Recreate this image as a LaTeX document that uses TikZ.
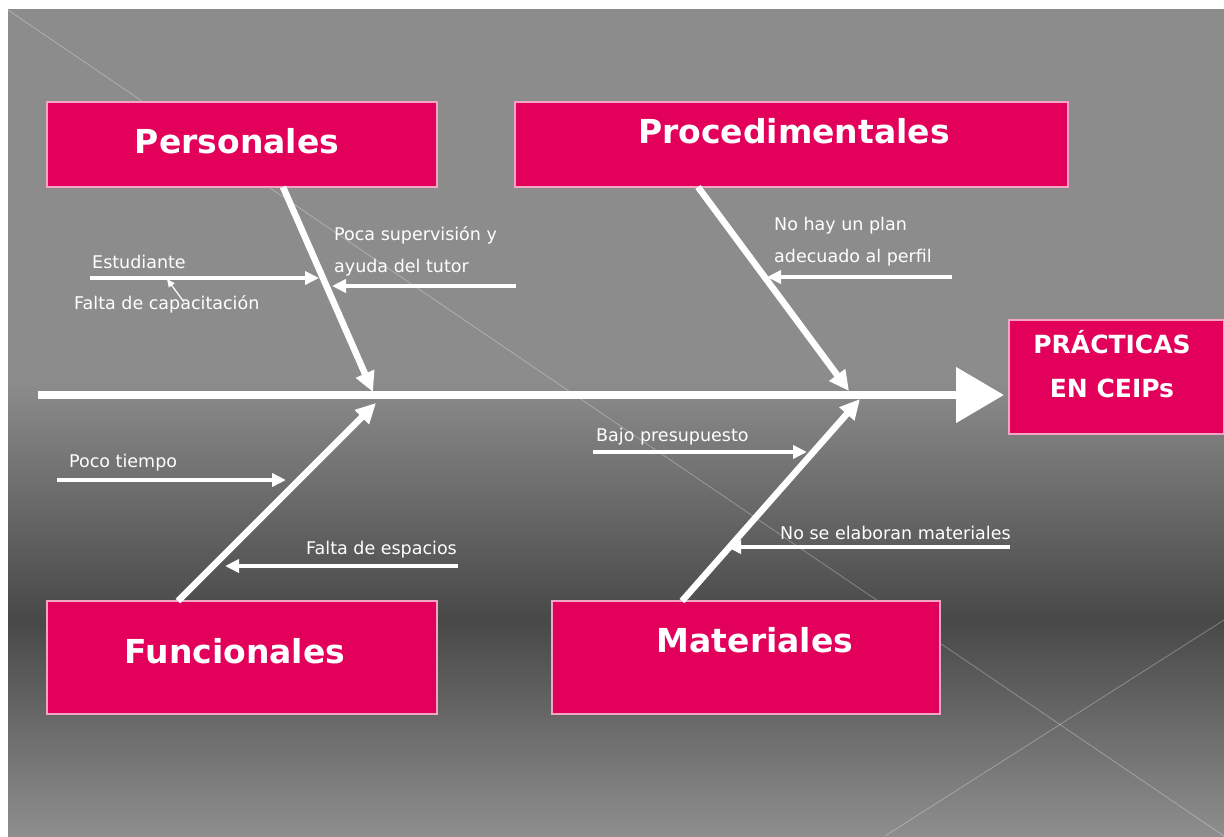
\documentclass[tikz,border=0pt]{standalone}
\usepackage{fontspec}
\setmainfont{DejaVu Sans}
\usetikzlibrary{arrows.meta}
\definecolor{boxpink}{HTML}{E2005A}
\definecolor{boxedge}{HTML}{F2A6C4}
\definecolor{bgA}{HTML}{8C8C8C}
\definecolor{bgB}{HTML}{484848}
\definecolor{bgC}{HTML}{8E8E8E}
\tikzset{
  catbox/.style={draw=boxedge, line width=1.2pt, fill=boxpink, inner sep=0pt},
  cattext/.style={text=white, font=\bfseries\fontsize{33}{36}\selectfont, inner sep=0pt},
  efftext/.style={text=white, font=\bfseries\fontsize{25}{44}\selectfont, align=center, inner sep=0pt},
  lbl/.style={text=white, font=\fontsize{17.5}{32}\selectfont, anchor=west, align=left, inner sep=0pt},
  spine/.style={white, line width=8pt, -{Triangle[length=48pt,width=54pt]}},
  bone/.style={white, line width=6.5pt, -{Triangle[length=20pt,width=19pt]}},
  twig/.style={white, line width=3.5pt, -{Triangle[length=14pt,width=13pt]}},
  thin twig/.style={white, line width=1.2pt, -{Triangle[length=8pt,width=7pt]}},
  deco/.style={white, opacity=0.3, line width=0.8pt}
}
\begin{document}
\begin{tikzpicture}[x=1pt,y=-1pt]
\useasboundingbox (0,0) rectangle (1224,836);
\fill[white] (0,0) rectangle (1224,836);
% background
\fill[bgA] (8,9) rectangle (1224,381);
\shade[top color=bgA, bottom color=bgB] (8,380) rectangle (1224,621);
\shade[top color=bgB, bottom color=bgC] (8,620) rectangle (1224,836);
\draw[deco] (8,10) -- (1224,836);
\draw[deco] (885,836) -- (1224,620);

% boxes
\node[catbox, minimum width=390pt, minimum height=85pt] (pers) at (242,144.5) {};
\node[cattext] at (237,141) {Personales};
\node[catbox, minimum width=553pt, minimum height=85pt] (proc) at (791.5,144.5) {};
\node[cattext] at (794,131) {Procedimentales};
\node[catbox, minimum width=390pt, minimum height=113pt] (func) at (242,657.5) {};
\node[cattext] at (235,651) {Funcionales};
\node[catbox, minimum width=388pt, minimum height=113pt] (mat) at (746,657.5) {};
\node[cattext] at (755,640) {Materiales};
\node[catbox, minimum width=215pt, minimum height=114pt] (eff) at (1116.5,377) {};
\node[efftext] at (1112,364) {PRÁCTICAS\\EN CEIPs};

% spine
\coordinate (s0) at (38,395);
\coordinate (s1) at (1004,395);
\draw[spine] (s0) -- (s1);

% bones
\coordinate (p0) at (283,187);  \coordinate (p1) at (373,392);
\coordinate (q0) at (698,187);  \coordinate (q1) at (849,391);
\coordinate (f0) at (178,601);  \coordinate (f1) at (376,403);
\coordinate (m0) at (682,601);  \coordinate (m1) at (860,399);
\draw[bone] (p0) -- (p1);
\draw[bone] (q0) -- (q1);
\draw[bone] (f0) -- (f1);
\draw[bone] (m0) -- (m1);

% twigs
\coordinate (a0) at (90,278);   \coordinate (a1) at (319,278);
\coordinate (b0) at (184,302);  \coordinate (b1) at (167,279);
\coordinate (c0) at (516,286);  \coordinate (c1) at (332,286);
\coordinate (d0) at (952,277);  \coordinate (d1) at (767,277);
\coordinate (e0) at (57,480);   \coordinate (e1) at (286,480);
\coordinate (g0) at (458,566);  \coordinate (g1) at (225,566);
\coordinate (h0) at (593,452);  \coordinate (h1) at (807,452);
\coordinate (k0) at (1010,547); \coordinate (k1) at (727,547);
\draw[twig] (a0) -- (a1);
\draw[thin twig] (b0) -- (b1);
\draw[twig] (c0) -- (c1);
\draw[twig] (d0) -- (d1);
\draw[twig] (e0) -- (e1);
\draw[twig] (g0) -- (g1);
\draw[twig] (h0) -- (h1);
\draw[twig] (k0) -- (k1);

% labels
\node[lbl] (la) at (92,262) {Estudiante};
\node[lbl] (lb) at (74,304) {Falta de capacitación};
\node[lbl] (lc) at (334,251) {Poca supervisión y\\ayuda del tutor};
\node[lbl] (ld) at (774,242) {No hay un plan\\adecuado al perfil};
\node[lbl] (le) at (69,463) {Poco tiempo};
\node[lbl] (lg) at (306,550) {Falta de espacios};
\node[lbl] (lh) at (596,437) {Bajo presupuesto};
\node[lbl] (lk) at (780,533) {No se elaboran materiales};
\end{tikzpicture}
\end{document}
